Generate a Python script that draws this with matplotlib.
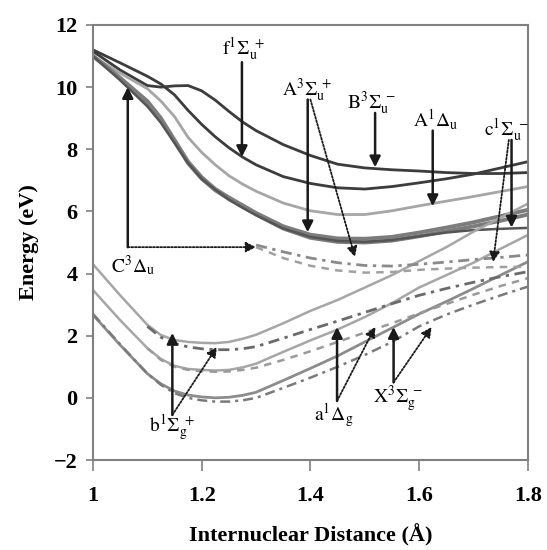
import matplotlib
matplotlib.use("Agg")
import matplotlib.pyplot as plt

plt.rcParams['mathtext.fontset'] = 'stix'
plt.rcParams['font.family'] = ['Liberation Serif', 'DejaVu Serif']

# internuclear distance grid (Angstrom)
r = [1.00, 1.05, 1.10, 1.125, 1.15, 1.175, 1.20, 1.225, 1.25, 1.275, 1.30,
     1.35, 1.40, 1.45, 1.50, 1.55, 1.60, 1.65, 1.70, 1.75, 1.80]

# upper excited states (solid)
B3Su_minus = [11.15, 10.55, 10.05, 10.00, 10.04, 10.05, 9.88, 9.58, 9.22, 8.88, 8.60,
              8.15, 7.80, 7.52, 7.40, 7.34, 7.30, 7.25, 7.22, 7.22, 7.25]
f1Su_plus = [11.20, 10.78, 10.35, 10.10, 9.75, 9.25, 8.80, 8.40, 8.05, 7.75, 7.50,
             7.12, 6.90, 6.76, 6.72, 6.80, 6.92, 7.05, 7.20, 7.40, 7.60]
A1Du = [11.00, 10.45, 9.95, 9.55, 9.05, 8.38, 7.90, 7.50, 7.15, 6.88, 6.65,
        6.27, 6.02, 5.90, 5.90, 6.02, 6.18, 6.33, 6.48, 6.64, 6.80]
A3Su_plus = [11.00, 10.30, 9.55, 9.00, 8.30, 7.60, 7.10, 6.72, 6.45, 6.20, 5.95,
             5.52, 5.25, 5.13, 5.12, 5.18, 5.32, 5.48, 5.65, 5.85, 6.05]
C3Du = [11.00, 10.28, 9.50, 8.95, 8.25, 7.55, 7.05, 6.68, 6.40, 6.15, 5.90,
        5.45, 5.15, 5.02, 5.00, 5.06, 5.20, 5.36, 5.52, 5.70, 5.90]
c1Su_minus = [11.00, 10.22, 9.38, 8.85, 8.20, 7.55, 7.05, 6.70, 6.38, 6.12, 5.88,
              5.45, 5.18, 5.05, 5.02, 5.08, 5.20, 5.32, 5.40, 5.44, 5.47]

# lower states (solid)
b1Sg_plus = [4.30, 3.30, 2.35, 2.02, 1.86, 1.80, 1.77, 1.76, 1.80, 1.90, 2.03,
             2.40, 2.80, 3.15, 3.55, 3.95, 4.40, 4.85, 5.35, 5.80, 6.25]
a1Dg = [3.47, 2.50, 1.60, 1.25, 1.03, 0.93, 0.90, 0.88, 0.90, 0.98, 1.10,
        1.48, 1.85, 2.20, 2.60, 3.05, 3.55, 3.95, 4.35, 4.80, 5.24]
X3Sg_minus = [2.67, 1.70, 0.78, 0.45, 0.22, 0.09, 0.03, 0.00, 0.02, 0.08, 0.18,
              0.56, 0.95, 1.35, 1.80, 2.25, 2.70, 3.10, 3.52, 3.95, 4.38]

# second set of curves (dashed)
r_low = r[2:]
b1Sg_plus_2 = [2.30, 1.95, 1.75, 1.64, 1.58, 1.55, 1.55, 1.58, 1.65,
               1.92, 2.20, 2.47, 2.75, 3.03, 3.30, 3.52, 3.72, 3.90, 4.06]
a1Dg_2 = [1.60, 1.22, 1.00, 0.90, 0.86, 0.84, 0.85, 0.90, 0.97,
          1.22, 1.50, 1.80, 2.10, 2.40, 2.72, 3.02, 3.32, 3.60, 3.85]
X3Sg_minus_2 = [2.70, 1.72, 0.78, 0.42, 0.15, 0.00, -0.08, -0.12, -0.12, -0.08, 0.00,
                0.32, 0.65, 1.00, 1.38, 1.80, 2.30, 2.68, 3.00, 3.30, 3.58]
r_up = r[10:]
upper_2a = [4.92, 4.70, 4.50, 4.35, 4.26, 4.24, 4.30, 4.37, 4.45, 4.52, 4.60]
upper_2b = [4.85, 4.50, 4.25, 4.10, 4.03, 4.05, 4.12, 4.16, 4.19, 4.21, 4.22]

x_ticks = [1.0, 1.2, 1.4, 1.6, 1.8]
x_ticklabels = ['1', '1.2', '1.4', '1.6', '1.8']
y_ticks = [-2, 0, 2, 4, 6, 8, 10, 12]

fig = plt.figure(figsize=(5.47, 5.50), dpi=100)
ax = fig.add_axes([0.170, 0.1636, 0.795, 0.791])

dark = '#3c3c3c'
mid = '#7c7c7c'
light = '#a6a6a6'

# upper states
ax.plot(r, B3Su_minus, color=dark, lw=2.0)
ax.plot(r, f1Su_plus, color=dark, lw=2.0)
ax.plot(r, A1Du, color=light, lw=2.0)
ax.plot(r, A3Su_plus, color=mid, lw=2.8)
ax.plot(r, C3Du, color=mid, lw=2.8)
ax.plot(r, c1Su_minus, color='#555555', lw=1.8)

# lower states
ax.plot(r, b1Sg_plus, color=light, lw=1.8)
ax.plot(r, a1Dg, color=light, lw=1.8)
ax.plot(r, X3Sg_minus, color='#8c8c8c', lw=2.0)

# dashed sets
ax.plot(r_low, b1Sg_plus_2, color='#6a6a6a', lw=2.0, linestyle=(0, (4, 2, 1.2, 2)))
ax.plot(r_low, a1Dg_2, color='#9a9a9a', lw=1.8, linestyle=(0, (3, 2.5)))
ax.plot(r, X3Sg_minus_2, color='#7a7a7a', lw=1.8, linestyle=(0, (4, 2, 1.2, 2)))
ax.plot(r_up, upper_2a, color='#8a8a8a', lw=2.0, linestyle=(0, (4, 2, 1.2, 2)))
ax.plot(r_up, upper_2b, color='#a0a0a0', lw=1.8, linestyle=(0, (3, 2.5)))

ax.set_xlim(1.0, 1.8)
ax.set_ylim(-2, 12)
ax.set_xticks(x_ticks)
ax.set_xticklabels(x_ticklabels)
ax.set_yticks(y_ticks)
for s in ax.spines.values():
    s.set_color('#808080')
    s.set_linewidth(1.5)
ax.tick_params(axis='x', direction='out', length=8, width=1.2, color='#808080', pad=11)
ax.tick_params(axis='y', direction='out', length=5, width=1.2, color='#808080', pad=6)
for lab in ax.get_xticklabels() + ax.get_yticklabels():
    lab.set_fontsize(16)
    lab.set_fontweight('bold')
ax.set_xlabel('Internuclear Distance (Å)', fontsize=16, fontweight='bold', labelpad=13)
ax.set_ylabel('Energy (eV)', fontsize=16, fontweight='bold', labelpad=11)

# state labels
labels = [
    (r'$\mathrm{f}^{1}\Sigma_{\mathrm{u}}^{\ +}$', 1.276, 11.2),
    (r'$\mathrm{A}^{3}\Sigma_{\mathrm{u}}^{\ +}$', 1.394, 9.9),
    (r'$\mathrm{B}^{3}\Sigma_{\mathrm{u}}^{\ -}$', 1.513, 9.49),
    (r'$\mathrm{A}^{1}\Delta_{\mathrm{u}}$', 1.631, 8.94),
    (r'$\mathrm{c}^{1}\Sigma_{\mathrm{u}}^{\ -}$', 1.761, 8.62),
    (r'$\mathrm{C}^{3}\Delta_{\mathrm{u}}$', 1.074, 4.27),
    (r'$\mathrm{b}^{1}\Sigma_{\mathrm{g}}^{\ +}$', 1.145, -0.97),
    (r'$\mathrm{a}^{1}\Delta_{\mathrm{g}}$', 1.443, -0.55),
    (r'$\mathrm{X}^{3}\Sigma_{\mathrm{g}}^{\ -}$', 1.561, -0.02),
]
for txt, lx, ly in labels:
    ax.text(lx, ly, txt, fontsize=14, ha='center', va='center')

solid_arrows = [
    ((1.274, 10.80), (1.274, 7.75)),
    ((1.395, 9.60), (1.395, 5.33)),
    ((1.519, 9.17), (1.519, 7.42)),
    ((1.625, 8.60), (1.625, 6.17)),
    ((1.770, 8.30), (1.770, 5.48)),
    ((1.064, 4.85), (1.064, 10.0)),
    ((1.146, -0.55), (1.146, 2.09)),
    ((1.449, -0.10), (1.449, 2.28)),
    ((1.553, 0.50), (1.553, 2.28)),
]
dotted_arrows = [
    ((1.400, 9.60), (1.482, 4.53)),
    ((1.765, 8.30), (1.736, 4.37)),
    ((1.064, 4.85), (1.300, 4.85)),
    ((1.146, -0.55), (1.228, 1.64)),
    ((1.449, -0.10), (1.519, 2.28)),
    ((1.553, 0.50), (1.623, 2.28)),
]
for (x0, y0), (x1, y1) in solid_arrows:
    ax.annotate('', xy=(x1, y1), xytext=(x0, y0),
                arrowprops=dict(arrowstyle='-|>', color='#1a1a1a', lw=1.8,
                                mutation_scale=16, shrinkA=0, shrinkB=0))
for (x0, y0), (x1, y1) in dotted_arrows:
    ax.annotate('', xy=(x1, y1), xytext=(x0, y0),
                arrowprops=dict(arrowstyle='-|>', color='#1a1a1a', lw=1.3,
                                linestyle=(0, (1, 1)), mutation_scale=15,
                                shrinkA=0, shrinkB=0))

fig.savefig('out.png', dpi=100)
